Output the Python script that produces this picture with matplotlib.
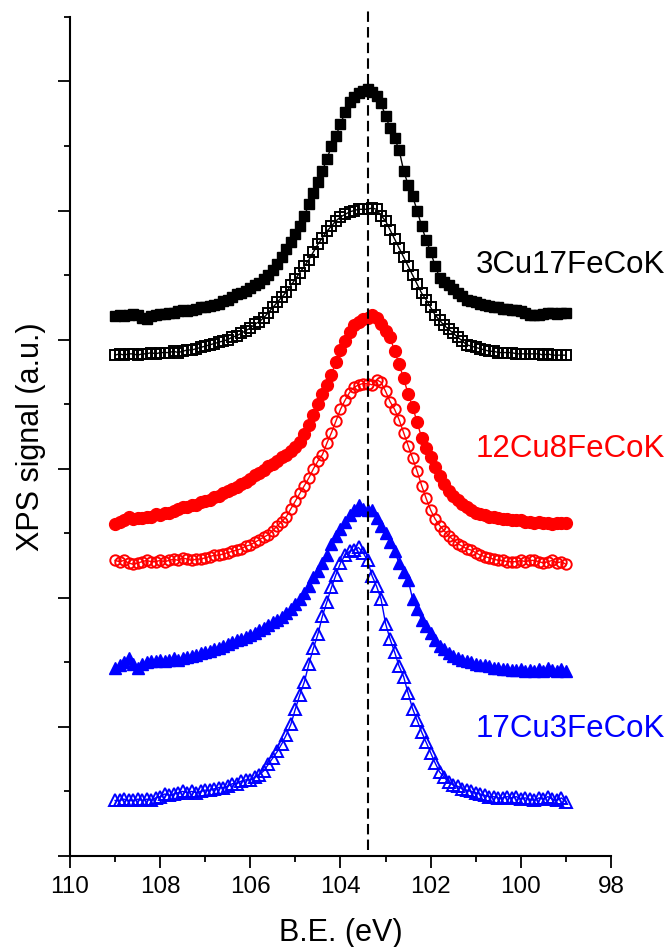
import numpy as np
import matplotlib
matplotlib.use('Agg')
import matplotlib.pyplot as plt
from matplotlib.ticker import MultipleLocator, NullFormatter

plt.rcParams['font.family'] = ['Liberation Sans', 'DejaVu Sans']

# binding energy grid runs 109 -> 99 eV, 0.1 eV step
s1_fill_sq = [4.18, 4.19, 4.18, 4.19, 4.20, 4.19, 4.17, 4.16, 4.18, 4.19,
              4.20, 4.20, 4.21, 4.21, 4.22, 4.23, 4.22, 4.23, 4.24, 4.25,
              4.25, 4.26, 4.27, 4.28, 4.30, 4.31, 4.33, 4.35, 4.36, 4.38,
              4.40, 4.42, 4.44, 4.47, 4.50, 4.54, 4.59, 4.64, 4.70, 4.76,
              4.82, 4.88, 4.96, 5.05, 5.14, 5.22, 5.31, 5.40, 5.50, 5.58,
              5.67, 5.76, 5.84, 5.88, 5.91, 5.93, 5.94, 5.92, 5.89, 5.83,
              5.73, 5.64, 5.56, 5.47, 5.31, 5.20, 5.11, 5.00, 4.88, 4.77,
              4.68, 4.57, 4.48, 4.45, 4.42, 4.39, 4.36, 4.34, 4.31, 4.30,
              4.29, 4.28, 4.27, 4.26, 4.25, 4.25, 4.24, 4.24, 4.23, 4.23,
              4.22, 4.21, 4.19, 4.19, 4.19, 4.20, 4.21, 4.21, 4.20, 4.21,
              4.21]

s2_open_sq = [3.88, 3.89, 3.88, 3.89, 3.89, 3.88, 3.89, 3.89, 3.90, 3.89,
              3.90, 3.90, 3.90, 3.91, 3.90, 3.91, 3.92, 3.92, 3.93, 3.94,
              3.95, 3.96, 3.97, 3.98, 3.99, 4.00, 4.02, 4.03, 4.05, 4.07,
              4.09, 4.12, 4.14, 4.17, 4.21, 4.25, 4.29, 4.33, 4.37, 4.42,
              4.47, 4.52, 4.57, 4.62, 4.68, 4.74, 4.79, 4.84, 4.88, 4.92,
              4.95, 4.97, 4.99, 5.00, 5.01, 5.01, 5.01, 5.02, 5.01, 4.96,
              4.92, 4.85, 4.78, 4.71, 4.64, 4.57, 4.50, 4.43, 4.36, 4.31,
              4.25, 4.19, 4.15, 4.11, 4.08, 4.05, 4.02, 3.99, 3.96, 3.95,
              3.94, 3.93, 3.92, 3.91, 3.91, 3.90, 3.90, 3.90, 3.90, 3.89,
              3.89, 3.89, 3.89, 3.89, 3.89, 3.88, 3.89, 3.88, 3.88, 3.88,
              3.88]

s3_fill_ci = [2.57, 2.59, 2.60, 2.63, 2.61, 2.62, 2.62, 2.63, 2.63, 2.65,
              2.64, 2.66, 2.66, 2.67, 2.69, 2.70, 2.70, 2.72, 2.72, 2.74,
              2.75, 2.76, 2.78, 2.79, 2.81, 2.83, 2.84, 2.86, 2.88, 2.90,
              2.92, 2.95, 2.97, 2.99, 3.02, 3.04, 3.06, 3.09, 3.11, 3.14,
              3.17, 3.21, 3.27, 3.34, 3.42, 3.50, 3.58, 3.65, 3.73, 3.83,
              3.92, 3.99, 4.06, 4.11, 4.14, 4.16, 4.17, 4.19, 4.17, 4.12,
              4.07, 4.02, 3.91, 3.81, 3.70, 3.58, 3.48, 3.36, 3.24, 3.16,
              3.09, 3.01, 2.94, 2.88, 2.83, 2.79, 2.76, 2.73, 2.70, 2.68,
              2.66, 2.65, 2.64, 2.63, 2.63, 2.62, 2.61, 2.61, 2.60, 2.60,
              2.60, 2.59, 2.59, 2.58, 2.59, 2.58, 2.58, 2.57, 2.58, 2.58,
              2.58]

s4_open_ci = [2.29, 2.28, 2.29, 2.27, 2.26, 2.27, 2.28, 2.29, 2.28, 2.28,
              2.29, 2.28, 2.29, 2.30, 2.29, 2.31, 2.30, 2.29, 2.30, 2.30,
              2.31, 2.32, 2.33, 2.33, 2.34, 2.35, 2.36, 2.37, 2.38, 2.40,
              2.41, 2.43, 2.45, 2.47, 2.49, 2.52, 2.56, 2.59, 2.63, 2.69,
              2.75, 2.81, 2.87, 2.93, 3.00, 3.06, 3.11, 3.20, 3.28, 3.37,
              3.46, 3.53, 3.59, 3.63, 3.65, 3.66, 3.66, 3.65, 3.69, 3.67,
              3.60, 3.52, 3.46, 3.38, 3.28, 3.18, 3.08, 2.98, 2.87, 2.77,
              2.68, 2.61, 2.56, 2.52, 2.48, 2.45, 2.42, 2.40, 2.38, 2.37,
              2.35, 2.33, 2.32, 2.31, 2.30, 2.29, 2.29, 2.28, 2.28, 2.28,
              2.29, 2.28, 2.29, 2.29, 2.28, 2.27, 2.28, 2.29, 2.27, 2.28,
              2.26]

s5_fill_tri = [1.46, 1.48, 1.50, 1.53, 1.49, 1.46, 1.49, 1.50, 1.51, 1.51,
               1.52, 1.51, 1.52, 1.53, 1.52, 1.53, 1.54, 1.55, 1.56, 1.57,
               1.58, 1.59, 1.60, 1.61, 1.63, 1.64, 1.66, 1.67, 1.68, 1.70,
               1.71, 1.73, 1.75, 1.77, 1.79, 1.81, 1.83, 1.85, 1.88, 1.91,
               1.95, 1.99, 2.04, 2.09, 2.16, 2.21, 2.27, 2.33, 2.42, 2.48,
               2.53, 2.59, 2.64, 2.68, 2.72, 2.69, 2.68, 2.68, 2.62, 2.56,
               2.50, 2.43, 2.36, 2.27, 2.20, 2.14, 1.99, 1.91, 1.83, 1.78,
               1.73, 1.67, 1.63, 1.60, 1.57, 1.55, 1.53, 1.52, 1.51, 1.50,
               1.49, 1.48, 1.48, 1.47, 1.46, 1.46, 1.45, 1.45, 1.44, 1.44,
               1.45, 1.43, 1.44, 1.43, 1.45, 1.43, 1.46, 1.44, 1.43, 1.45,
               1.43]

s6_open_tri = [0.43, 0.43, 0.44, 0.43, 0.43, 0.44, 0.43, 0.44, 0.43, 0.45,
               0.46, 0.48, 0.47, 0.48, 0.49, 0.50, 0.49, 0.50, 0.49, 0.50,
               0.51, 0.51, 0.52, 0.53, 0.53, 0.54, 0.56, 0.56, 0.58, 0.59,
               0.59, 0.61, 0.63, 0.66, 0.71, 0.76, 0.81, 0.87, 0.94, 1.02,
               1.14, 1.25, 1.35, 1.49, 1.61, 1.72, 1.86, 1.97, 2.08, 2.18,
               2.27, 2.33, 2.36, 2.37, 2.39, 2.35, 2.29, 2.17, 2.09, 1.99,
               1.80, 1.68, 1.58, 1.47, 1.39, 1.26, 1.14, 1.05, 0.96, 0.88,
               0.80, 0.72, 0.65, 0.61, 0.57, 0.55, 0.54, 0.52, 0.51, 0.50,
               0.49, 0.48, 0.47, 0.46, 0.46, 0.45, 0.45, 0.46, 0.45, 0.46,
               0.44, 0.45, 0.44, 0.43, 0.45, 0.44, 0.46, 0.44, 0.43, 0.45,
               0.42]

labels = ['3Cu17FeCoK', '12Cu8FeCoK', '17Cu3FeCoK']
label_colors = ['black', 'red', 'blue']
label_y = [4.58, 3.15, 0.98]
peak_line = 103.4

be = np.round(np.linspace(109, 99, len(s1_fill_sq)), 2)

fig = plt.figure(figsize=(6.69, 9.47), dpi=100)
ax = fig.add_axes([0.1046, 0.0961, 0.8087, 0.886])

# black
ax.plot(be, s1_fill_sq, color='black', lw=1, marker='s', ms=7.5, mfc='black', mec='black')
ax.plot(be, s2_open_sq, color='black', lw=1, marker='s', ms=7, mfc='none', mec='black', mew=1.4)
# red
ax.plot(be, s3_fill_ci, color='red', lw=1, marker='o', ms=8.5, mfc='red', mec='red')
ax.plot(be, s4_open_ci, color='red', lw=1, marker='o', ms=7.5, mfc='none', mec='red', mew=1.4)
# blue
ax.plot(be, s5_fill_tri, color='blue', lw=1, marker='^', ms=9, mfc='blue', mec='blue')
ax.plot(be, s6_open_tri, color='blue', lw=1, marker='^', ms=8.5, mfc='none', mec='blue', mew=1.4)

ax.plot([peak_line, peak_line], [0.05, 6.57], color='black', lw=1.5,
        linestyle=(0, (5, 2.5)), clip_on=False, zorder=5)

for lab, c, yy in zip(labels, label_colors, label_y):
    ax.text(96.8, yy, lab, color=c, fontsize=22.5, ha='right', va='center', clip_on=False)

ax.set_xlim(110, 98)
ax.set_ylim(0, 6.5)
ax.xaxis.set_major_locator(MultipleLocator(2))
ax.xaxis.set_minor_locator(MultipleLocator(1))
ax.yaxis.set_major_locator(MultipleLocator(1))
ax.yaxis.set_minor_locator(MultipleLocator(0.5))
ax.yaxis.set_major_formatter(NullFormatter())

ax.spines['top'].set_visible(False)
ax.spines['right'].set_visible(False)
ax.spines['left'].set_linewidth(1.5)
ax.spines['bottom'].set_linewidth(1.5)
ax.tick_params(which='major', direction='out', length=8.5, width=1.3, labelsize=17.5, pad=6)
ax.tick_params(which='minor', direction='out', length=4.5, width=1.3)

ax.set_xlabel('B.E. (eV)', fontsize=22, labelpad=14)
ax.set_ylabel('XPS signal (a.u.)', fontsize=22, labelpad=3)

fig.savefig('out.png', dpi=100)
